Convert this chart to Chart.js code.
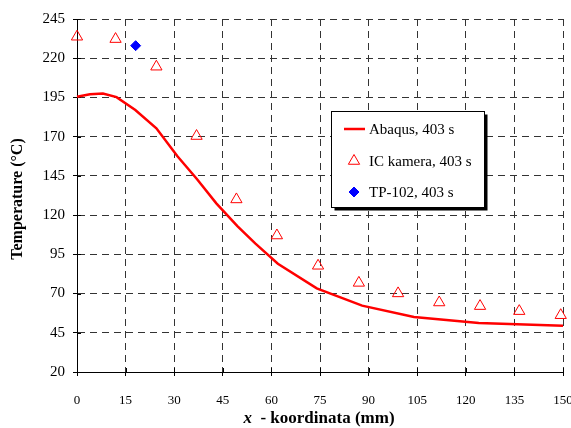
<!DOCTYPE html>
<html>
<head>
<meta charset="utf-8">
<script src="https://cdn.jsdelivr.net/npm/chart.js@4"></script>
<style>
    html, body { margin: 0; padding: 0; background: #fff; }
    canvas { display: block; }
</style>
</head>
<body>
<canvas id="tempChart" width="571" height="428"></canvas>
<script>
// Datos
const abaqusX = [0, 4, 8, 12.2, 18, 24.5, 31, 37, 43, 49.5, 55, 62, 74, 88, 104, 124, 150];
const abaqusT = [195.5, 197, 197.5, 195.2, 187, 175.3, 157.5, 143, 127.5, 113, 102, 89, 73.3, 62.3, 55, 51.3, 49.5];

const icX = [0, 11.9, 24.5, 36.9, 49.2, 61.7, 74.4, 87, 99.1, 111.8, 124.4, 136.5, 149.3];
const icT = [233.7, 232.2, 214.6, 170.4, 130, 107, 87.7, 76.8, 70.1, 64.3, 62, 58.8, 56.2];

const tpX = [18.1];
const tpT = [228];

const xTicks = [0, 15, 30, 45, 60, 75, 90, 105, 120, 135, 150];
const yTicks = [20, 45, 70, 95, 120, 145, 170, 195, 220, 245];

const seriesNames = ['Abaqus, 403 s', 'IC kamera, 403 s', 'TP-102, 403 s'];

const SERIF = '"Liberation Serif", "Times New Roman", serif';

function toPoints(xs, ys) {
    return xs.map((x, i) => ({ x: x, y: ys[i] }));
}

function drawMarker(ctx, style, r, x, y) {
    if (style === 'triangle') {
        for (let k = 0; k < 3; k++) {
            const a = k * 2 * Math.PI / 3;
            const px = x + Math.sin(a) * r, py = y - Math.cos(a) * r;
            if (k === 0) ctx.moveTo(px, py); else ctx.lineTo(px, py);
        }
        ctx.closePath();
    } else {
        ctx.moveTo(x - r, y);
        ctx.lineTo(x, y - r);
        ctx.lineTo(x + r, y);
        ctx.lineTo(x, y + r);
        ctx.closePath();
    }
}

// Plugin: titulos de ejes, leyenda y marcas interiores
const decorPlugin = {
    id: 'decor',
    beforeDatasetsDraw(chart) {
        const ctx = chart.ctx;
        const area = chart.chartArea;
        const xs = chart.scales.x, ys = chart.scales.y;
        ctx.save();
        ctx.strokeStyle = '#000';
        ctx.lineWidth = 1;
        ctx.beginPath();
        xTicks.forEach(t => {
            const px = Math.round(xs.getPixelForValue(t)) + 0.5;
            ctx.moveTo(px, area.bottom);
            ctx.lineTo(px, area.bottom - 4);
        });
        yTicks.forEach(t => {
            const py = Math.round(ys.getPixelForValue(t)) + 0.5;
            ctx.moveTo(area.left, py);
            ctx.lineTo(area.left + 4, py);
        });
        ctx.stroke();
        ctx.restore();
    },
    afterDraw(chart) {
        const ctx = chart.ctx;
        const area = chart.chartArea;
        ctx.save();

        // Titulo eje Y
        ctx.fillStyle = '#000';
        ctx.font = 'bold 16px ' + SERIF;
        ctx.textAlign = 'center';
        ctx.textBaseline = 'middle';
        ctx.translate(18, 199);
        ctx.rotate(-Math.PI / 2);
        ctx.fillText('Temperature (°C)', 0, 0);
        ctx.setTransform(1, 0, 0, 1, 0, 0);

        // Titulo eje X
        const partA = 'x';
        const partB = '  - koordinata (mm)';
        ctx.font = 'italic bold 17px ' + SERIF;
        const wA = ctx.measureText(partA).width;
        ctx.font = 'bold 17px ' + SERIF;
        const wB = ctx.measureText(partB).width;
        const startX = (area.left + area.right) / 2 - (wA + wB) / 2 - 1;
        ctx.textAlign = 'left';
        ctx.textBaseline = 'middle';
        ctx.font = 'italic bold 17px ' + SERIF;
        ctx.fillText(partA, startX, 419);
        ctx.font = 'bold 17px ' + SERIF;
        ctx.fillText(partB, startX + wA, 419);

        // Leyenda
        const bx = 331.5, by = 111.5, bw = 153, bh = 96;
        ctx.fillStyle = '#000';
        ctx.fillRect(bx + 3, by + 3, bw, bh);
        ctx.fillStyle = '#fff';
        ctx.fillRect(bx, by, bw, bh);
        ctx.strokeStyle = '#000';
        ctx.lineWidth = 1;
        ctx.strokeRect(bx, by, bw, bh);

        const ds = chart.data.datasets;
        const rows = [129, 161, 192];
        ctx.font = '15px ' + SERIF;
        ctx.textBaseline = 'middle';
        ctx.textAlign = 'left';
        rows.forEach((ry, i) => {
            const d = ds[i];
            if (i === 0) {
                ctx.strokeStyle = d.borderColor;
                ctx.lineWidth = d.borderWidth;
                ctx.beginPath();
                ctx.moveTo(344, ry);
                ctx.lineTo(365, ry);
                ctx.stroke();
            } else {
                ctx.fillStyle = d.backgroundColor;
                ctx.strokeStyle = d.borderColor;
                ctx.lineWidth = d.borderWidth;
                ctx.beginPath();
                drawMarker(ctx, d.pointStyle, d.pointRadius, 354, ry);
                if (d.pointStyle === 'rectRot') ctx.fill();
                ctx.stroke();
            }
            ctx.fillStyle = '#000';
            ctx.fillText(seriesNames[i], 369, ry + 1);
        });
        ctx.restore();
    }
};

const ctx = document.getElementById('tempChart').getContext('2d');
const tempChart = new Chart(ctx, {
    type: 'scatter',
    data: {
        datasets: [{
            label: seriesNames[0],
            data: toPoints(abaqusX, abaqusT),
            showLine: true,
            borderColor: '#ff0000',
            backgroundColor: '#ff0000',
            borderWidth: 2.5,
            pointRadius: 0,
            tension: 0,
            clip: false,
            order: 3
        }, {
            label: seriesNames[1],
            data: toPoints(icX, icT),
            showLine: false,
            pointStyle: 'triangle',
            pointRadius: 6.5,
            borderColor: '#ff0000',
            backgroundColor: 'rgba(255,255,255,0)',
            borderWidth: 1,
            clip: false,
            order: 2
        }, {
            label: seriesNames[2],
            data: toPoints(tpX, tpT),
            showLine: false,
            pointStyle: 'rectRot',
            pointRadius: 5,
            borderColor: '#0000ff',
            backgroundColor: '#0000ff',
            borderWidth: 1,
            clip: false,
            order: 1
        }]
    },
    options: {
        responsive: false,
        animation: false,
        devicePixelRatio: 1,
        layout: {
            padding: { top: 19, right: 8, left: 0, bottom: 0 }
        },
        plugins: {
            legend: { display: false },
            tooltip: { enabled: false }
        },
        scales: {
            x: {
                type: 'linear',
                min: 0,
                max: 150,
                afterBuildTicks: scale => {
                    scale.ticks = xTicks.map(v => ({ value: v }));
                },
                afterFit: scale => {
                    scale.height = 56;
                    scale.paddingLeft = 0;
                    scale.paddingRight = 0;
                },
                ticks: {
                    color: '#000',
                    font: { family: SERIF, size: 13 },
                    padding: 17,
                    maxRotation: 0,
                    autoSkip: false
                },
                grid: {
                    color: '#333',
                    tickColor: '#000',
                    tickLength: 4,
                    lineWidth: 1
                },
                border: {
                    color: '#000',
                    width: 1,
                    dash: [7, 5]
                },
                title: { display: false }
            },
            y: {
                type: 'linear',
                min: 20,
                max: 245,
                afterBuildTicks: scale => {
                    scale.ticks = yTicks.map(v => ({ value: v }));
                },
                afterFit: scale => {
                    scale.width = 77;
                    scale.paddingTop = 0;
                    scale.paddingBottom = 0;
                },
                ticks: {
                    color: '#000',
                    font: { family: SERIF, size: 15 },
                    padding: 8,
                    autoSkip: false
                },
                grid: {
                    color: '#333',
                    tickColor: '#000',
                    tickLength: 4,
                    lineWidth: 1
                },
                border: {
                    color: '#000',
                    width: 1,
                    dash: [7, 5]
                },
                title: { display: false }
            }
        }
    },
    plugins: [decorPlugin]
});
</script>
</body>
</html>
